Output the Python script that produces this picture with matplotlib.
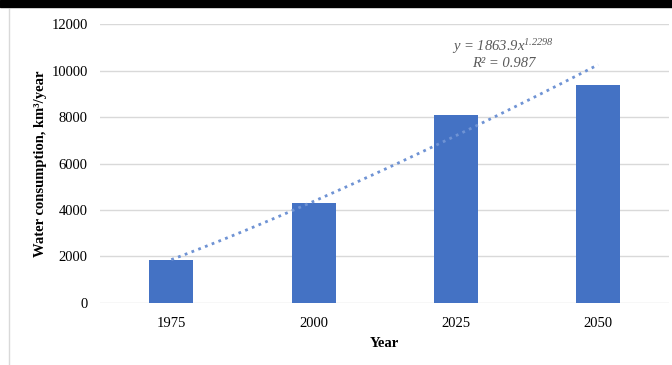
import numpy as np
import matplotlib
matplotlib.use("Agg")
from matplotlib import pyplot as plt
from matplotlib.patches import Rectangle
from matplotlib.lines import Line2D

years = ["1975", "2000", "2025", "2050"]
consumption = [1850, 4300, 8090, 9380]
# power trendline reported on the chart: y = a * x^b
trend_a = 1863.9
trend_b = 1.2298
r_squared = 0.987

plt.rcParams["font.family"] = ["Liberation Serif", "DejaVu Serif"]
plt.rcParams["mathtext.fontset"] = "custom"
plt.rcParams["mathtext.rm"] = "Liberation Serif:italic"
plt.rcParams["mathtext.it"] = "Liberation Serif:italic"

blue = "#4472C4"

fig = plt.figure(figsize=(6.72, 3.65), dpi=100)
ax = fig.add_axes([0.149, 0.170, 0.847, 0.764])

x = np.arange(len(years))
ax.bar(x, consumption, width=0.31, color=blue, zorder=3)

xt = np.linspace(1, len(years), 60)
ax.plot(xt - 1, trend_a * xt ** trend_b, linestyle=(0, (1, 1.6)), color="#6F93D4",
        linewidth=2, zorder=4)

ax.set_xlim(-0.5, 3.5)
ax.set_ylim(0, 12000)
ax.set_yticks(np.arange(0, 12001, 2000))
ax.set_xticks(x)
ax.set_xticklabels(years)
ax.tick_params(length=0, labelsize=10.5, pad=10)
ax.tick_params(axis="y", pad=9)
ax.grid(axis="y", color="#D9D9D9", linewidth=1, zorder=0)
for s in ax.spines.values():
    s.set_visible(False)

ax.set_xlabel("Year", fontweight="bold", fontsize=10.5, labelpad=5)
ax.set_ylabel("Water consumption, km³/year", fontweight="bold", fontsize=10.5, labelpad=3)

ax.text(2.33, 11020, "y = %.1fx$^{%.4f}$" % (trend_a, trend_b), ha="center", va="center",
        fontsize=10.5, color="#595959", fontstyle="italic")
ax.text(2.34, 10320, "R² = %.3f" % r_squared, ha="center", va="center",
        fontsize=10.5, color="#595959", fontstyle="italic")

# chart frame bits
fig.patches.append(Rectangle((0, 0.981), 1, 0.019, transform=fig.transFigure,
                             color="black", zorder=10))
fig.lines.append(Line2D([0.014, 0.014], [0, 0.975], transform=fig.transFigure,
                        color="#D9D9D9", linewidth=1))

fig.savefig("out.png", dpi=100)
plt.close()
